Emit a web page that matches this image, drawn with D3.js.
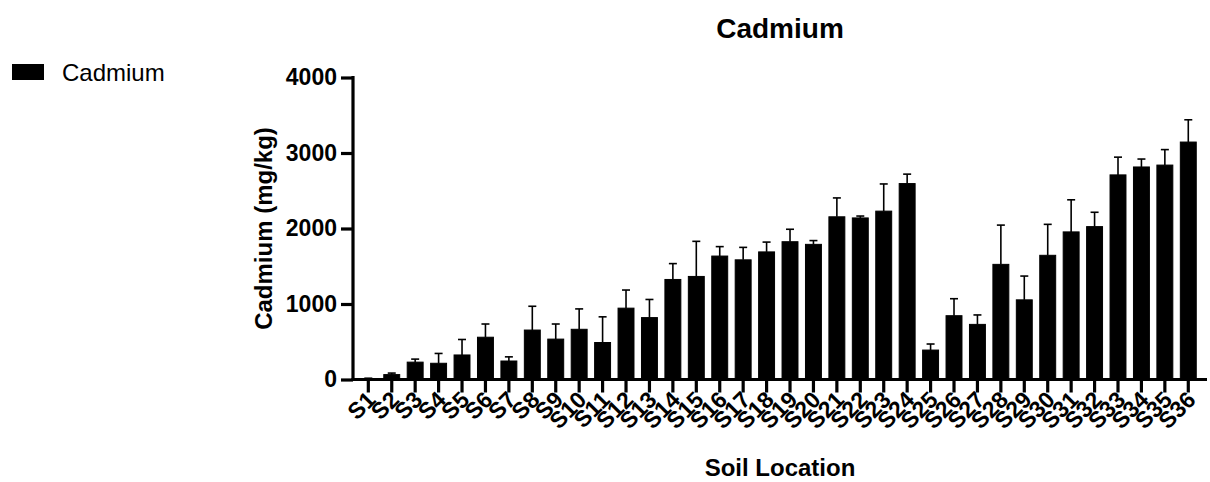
<!DOCTYPE html>
<html>
<head>
<meta charset="utf-8">
<script src="https://cdn.jsdelivr.net/npm/d3@7"></script>
<style>
  body { margin: 0; background: #fff; }
  text { font-family: "Liberation Sans", Arial, sans-serif; fill: #000; }
</style>
</head>
<body>
<div id="chart"></div>
<script>
// Soil locations
var sites = ["S1","S2","S3","S4","S5","S6","S7","S8","S9","S10","S11","S12",
             "S13","S14","S15","S16","S17","S18","S19","S20","S21","S22","S23","S24",
             "S25","S26","S27","S28","S29","S30","S31","S32","S33","S34","S35","S36"];

// Mean cadmium (mg/kg)
var cadmium = [12, 65, 230, 215, 325, 560, 245, 655, 535, 665, 490, 945,
               820, 1325, 1365, 1635, 1585, 1690, 1825, 1790, 2155, 2140, 2230, 2595,
               390, 845, 730, 1525, 1055, 1645, 1955, 2025, 2710, 2815, 2840, 3145];

// Upper error (SD)
var cadmiumErr = [5, 20, 40, 130, 205, 175, 55, 315, 200, 270, 340, 240,
                  240, 210, 465, 125, 165, 130, 165, 50, 250, 25, 360, 125,
                  80, 225, 125, 520, 315, 410, 425, 190, 235, 105, 205, 295];

var yTicks = [0, 1000, 2000, 3000, 4000];

var svgWidth = 1210;
var svgHeight = 482;

var svg = d3.select("#chart").append("svg")
    .attr("width", svgWidth)
    .attr("height", svgHeight);

// Scales
var xScale = d3.scaleBand()
    .domain(sites)
    .range([356.6, 1200])
    .paddingInner(0.32)
    .paddingOuter(0.16);

var yScale = d3.scaleLinear()
    .domain([0, 4000])
    .range([379.5, 77.5]);

var axisLeftX = 353;
var axisRightX = 1207;

// Bars
svg.append("g").selectAll("rect")
    .data(sites)
    .enter().append("rect")
    .attr("x", function(d) { return xScale(d); })
    .attr("y", function(d, i) { return yScale(cadmium[i]); })
    .attr("width", xScale.bandwidth())
    .attr("height", function(d, i) { return yScale(0) - yScale(cadmium[i]); })
    .attr("fill", "#000")
    .attr("stroke", "#000")
    .attr("stroke-width", 1);

// Error bars (upper only)
var errGrp = svg.append("g").attr("stroke", "#000").attr("stroke-width", 1.6);
sites.forEach(function(d, i) {
    var cx = xScale(d) + xScale.bandwidth() / 2;
    var top = yScale(cadmium[i] + cadmiumErr[i]);
    errGrp.append("line")
        .attr("x1", cx).attr("x2", cx)
        .attr("y1", yScale(cadmium[i])).attr("y2", top);
    errGrp.append("line")
        .attr("x1", cx - 4).attr("x2", cx + 4)
        .attr("y1", top).attr("y2", top);
});

// Y axis
var yAxis = svg.append("g")
    .attr("transform", "translate(" + axisLeftX + ",0)")
    .call(d3.axisLeft(yScale).tickValues(yTicks).tickFormat(d3.format("d"))
        .tickSize(12).tickPadding(4).tickSizeOuter(0));
yAxis.select(".domain").attr("stroke-width", 3.2).attr("d", "M0," + (yScale(4000) - 1.5) + "V" + (yScale(0) + 1.5));
yAxis.selectAll(".tick line").attr("stroke-width", 3.2);
yAxis.selectAll(".tick text")
    .attr("font-size", 23)
    .attr("font-weight", "bold")
    .attr("font-family", "'Liberation Sans', Arial, sans-serif");

// X axis
var xAxis = svg.append("g")
    .attr("transform", "translate(0," + yScale(0) + ")")
    .call(d3.axisBottom(xScale).tickSize(13).tickSizeOuter(0).tickPadding(2));
xAxis.select(".domain").attr("stroke-width", 3.2).attr("d", "M" + (axisLeftX - 1.6) + ",0H" + axisRightX);
xAxis.selectAll(".tick line").attr("stroke-width", 3.2);
xAxis.selectAll(".tick text")
    .attr("font-size", 23)
    .attr("font-weight", "bold")
    .attr("font-family", "'Liberation Sans', Arial, sans-serif")
    .attr("text-anchor", "end")
    .attr("dy", "0.35em")
    .attr("transform", "translate(3,16) rotate(-45)")
    .attr("y", 0)
    .attr("x", 0);

// Title
svg.append("text")
    .attr("x", (axisLeftX + axisRightX) / 2)
    .attr("y", 38)
    .attr("text-anchor", "middle")
    .attr("font-size", 28)
    .attr("font-weight", "bold")
    .text("Cadmium");

// Axis titles
svg.append("text")
    .attr("x", (axisLeftX + axisRightX) / 2)
    .attr("y", 476)
    .attr("text-anchor", "middle")
    .attr("font-size", 24)
    .attr("font-weight", "bold")
    .text("Soil Location");

svg.append("text")
    .attr("transform", "translate(272," + ((yScale(0) + yScale(4000)) / 2) + ") rotate(-90)")
    .attr("text-anchor", "middle")
    .attr("font-size", 24)
    .attr("font-weight", "bold")
    .text("Cadmium (mg/kg)");

// Legend
var legend = svg.append("g");
legend.append("rect")
    .attr("x", 12).attr("y", 64)
    .attr("width", 32).attr("height", 16)
    .attr("fill", "#000");
legend.append("text")
    .attr("x", 62).attr("y", 81)
    .attr("font-size", 24)
    .text("Cadmium");
</script>
</body>
</html>
